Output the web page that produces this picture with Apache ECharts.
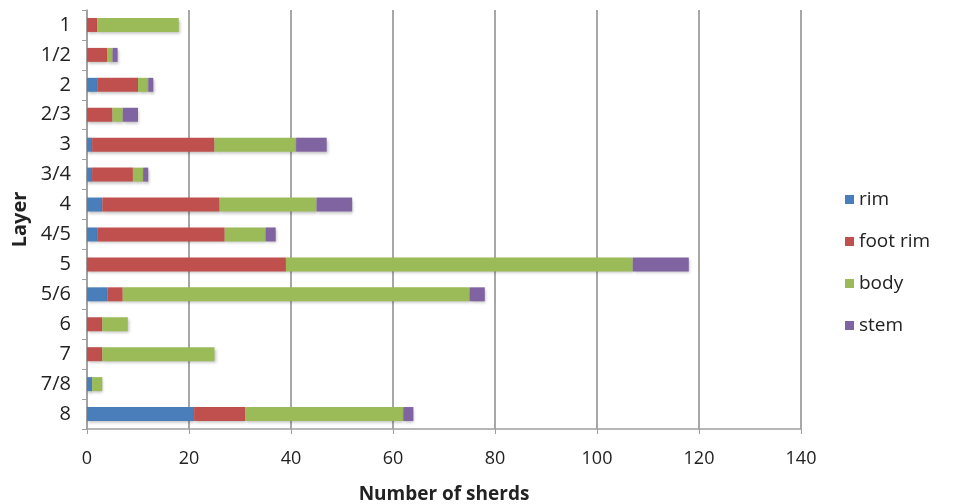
<!DOCTYPE html>
<html lang="en">

<head>
    <meta charset="UTF-8">
    <title>Sherds by layer</title>
    <script src="https://cdn.jsdelivr.net/npm/echarts@6/dist/echarts.min.js"></script>
    <style>
        body {
            margin: 0;
            background: #fff;
        }

        #chart {
            width: 953px;
            height: 504px;
        }
    </style>
</head>

<body>
    <div id="chart"></div>
    <script>
        var layers = ['1', '1/2', '2', '2/3', '3', '3/4', '4', '4/5', '5', '5/6', '6', '7', '7/8', '8'];
        var rim = [0, 0, 2, 0, 1, 1, 3, 2, 0, 4, 0, 0, 1, 21];
        var footRim = [2, 4, 8, 5, 24, 8, 23, 25, 39, 3, 3, 3, 0, 10];
        var body = [16, 1, 2, 2, 16, 2, 19, 8, 68, 68, 5, 22, 2, 31];
        var stem = [0, 1, 1, 3, 6, 1, 7, 2, 11, 3, 0, 0, 0, 2];
        var xTicks = { min: 0, max: 140, interval: 20 };

        var font = '"Open Sans", sans-serif';
        var myChart = echarts.init(document.getElementById('chart'));

        function bar(name, data, color) {
            return {
                name: name,
                type: 'bar',
                stack: 'all',
                barWidth: 14,
                data: data,
                itemStyle: {
                    color: color,
                    shadowColor: 'rgba(0,0,0,0.25)',
                    shadowBlur: 3,
                    shadowOffsetX: 1,
                    shadowOffsetY: 2
                }
            };
        }

        myChart.setOption({
            animation: false,
            textStyle: { fontFamily: font },
            grid: { left: 87, right: 152, top: 10, bottom: 75, outerBoundsMode: 'none' },
            legend: {
                orient: 'vertical',
                left: 840,
                top: 185,
                itemWidth: 9,
                itemHeight: 9,
                itemGap: 23,
                icon: 'rect',
                textStyle: { fontSize: 19, color: '#222', fontFamily: font },
                data: ['rim', 'foot rim', 'body', 'stem']
            },
            xAxis: {
                type: 'value',
                min: xTicks.min,
                max: xTicks.max,
                interval: xTicks.interval,
                name: 'Number of sherds',
                nameLocation: 'middle',
                nameGap: 56,
                nameTextStyle: { fontSize: 19, fontWeight: 'bold', color: '#222' },
                axisLine: { show: true, lineStyle: { color: '#a0a0a0', width: 1.5 } },
                axisTick: { show: true, length: 5, lineStyle: { color: '#a0a0a0' } },
                axisLabel: { fontSize: 18, color: '#222', margin: 21 },
                splitLine: { show: true, lineStyle: { color: '#8a8a8a', width: 1.5 } }
            },
            yAxis: {
                type: 'category',
                data: layers,
                inverse: true,
                name: 'Layer',
                nameLocation: 'middle',
                nameGap: 56,
                nameRotate: 90,
                nameTextStyle: { fontSize: 20, fontWeight: 'bold', color: '#222' },
                axisLine: { show: true, lineStyle: { color: '#a0a0a0', width: 1.5 } },
                axisTick: { show: true, length: 5, lineStyle: { color: '#a0a0a0' } },
                axisLabel: { fontSize: 20, color: '#222', margin: 16 }
            },
            series: [
                bar('rim', rim, '#4a7ebb'),
                bar('foot rim', footRim, '#c0504d'),
                bar('body', body, '#9bbb59'),
                bar('stem', stem, '#8064a2')
            ]
        });
    </script>
</body>

</html>
